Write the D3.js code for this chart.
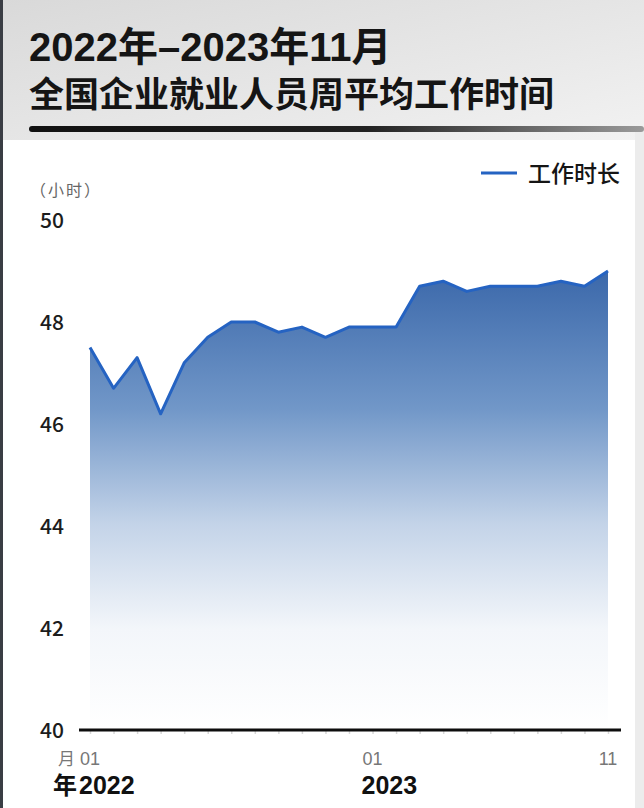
<!DOCTYPE html>
<html><head><meta charset="utf-8">
<script src="https://cdn.jsdelivr.net/npm/d3@7"></script>
<style>html,body{margin:0;padding:0;background:#fff;}svg{display:block;}</style>
</head><body>
<svg id="c" width="644" height="808"></svg>
<script>
const months = ["2022-01","2022-02","2022-03","2022-04","2022-05","2022-06","2022-07","2022-08","2022-09","2022-10","2022-11","2022-12",
  "2023-01","2023-02","2023-03","2023-04","2023-05","2023-06","2023-07","2023-08","2023-09","2023-10","2023-11"];
const hours = [47.5,46.7,47.3,46.2,47.2,47.7,48.0,48.0,47.8,47.9,47.7,47.9,
  47.9,47.9,48.7,48.8,48.6,48.7,48.7,48.7,48.8,48.7,49.0];
const yTicks = [40,42,44,46,48,50];
const monthTicks = ["2022-01","2023-01","2023-11"];
const monthLabels = ["01","01","11"];
const yearTicks = ["2022-01","2023-01"];
const yearLabels = ["2022","2023"];
const titleLines = ["2022年–2023年11月","全国企业就业人员周平均工作时间"];
const seriesName = "工作时长";
const unitLabel = "（小时）";

const font = "'Noto Sans CJK SC','Noto Sans',sans-serif";
const axFont = "'Liberation Sans','Noto Sans CJK SC',sans-serif";
const svg = d3.select("#c");
const defs = svg.append("defs");

// header background
const hg = defs.append("linearGradient").attr("id","hdr").attr("x1","0").attr("y1","0").attr("x2","1").attr("y2","1");
hg.append("stop").attr("offset","0").attr("stop-color","#d9d9d9");
hg.append("stop").attr("offset","1").attr("stop-color","#f2f2f2");
svg.append("rect").attr("x",0).attr("y",0).attr("width",644).attr("height",140).attr("fill","url(#hdr)");
svg.append("rect").attr("x",0).attr("y",140).attr("width",644).attr("height",668).attr("fill","#ffffff");
svg.append("rect").attr("x",635).attr("y",130).attr("width",9).attr("height",678).attr("fill","#ececec");
svg.append("rect").attr("x",0).attr("y",0).attr("width",3).attr("height",808).attr("fill","#3a3d44");

// rule under title
const rg = defs.append("linearGradient").attr("id","rule").attr("x1","0").attr("x2","1");
rg.append("stop").attr("offset","0").attr("stop-color","#111");
rg.append("stop").attr("offset","0.55").attr("stop-color","#222");
rg.append("stop").attr("offset","1").attr("stop-color","#9a9a9a");
svg.append("rect").attr("x",29).attr("y",126).attr("width",615).attr("height",6).attr("rx",3).attr("fill","url(#rule)");

svg.append("text").attr("x",29).attr("y",61).attr("font-family",axFont).attr("font-weight",700)
  .attr("font-size",40).attr("fill","#151515").text(titleLines[0]);
svg.append("text").attr("x",29).attr("y",107).attr("font-family",axFont).attr("font-weight",700)
  .attr("font-size",35).attr("fill","#151515").text(titleLines[1]);

// scales
const x = d3.scalePoint().domain(months).range([90,608]);
const y = d3.scaleLinear().domain([40,50]).range([730,220]);

// area gradient
const ag = defs.append("linearGradient").attr("id","area").attr("gradientUnits","userSpaceOnUse")
  .attr("x1",0).attr("x2",0).attr("y1",y(49)).attr("y2",y(40));
ag.append("stop").attr("offset","0").attr("stop-color","#3b68aa");
ag.append("stop").attr("offset","0.3").attr("stop-color","#7197c8");
ag.append("stop").attr("offset","0.55").attr("stop-color","#c3d3e8");
ag.append("stop").attr("offset","0.78").attr("stop-color","#f3f6fa");
ag.append("stop").attr("offset","1").attr("stop-color","#ffffff");

const area = d3.area().x((d,i)=>x(months[i])).y0(y(40)).y1(d=>y(d));
svg.append("path").datum(hours).attr("d",area).attr("fill","url(#area)");
const line = d3.line().x((d,i)=>x(months[i])).y(d=>y(d));
svg.append("path").datum(hours).attr("d",line).attr("fill","none")
  .attr("stroke","#2563c2").attr("stroke-width",3).attr("stroke-linejoin","round");

// y axis labels
yTicks.forEach(t=>{
  svg.append("text").attr("x",40).attr("y",y(t)+8).attr("font-family",font).attr("font-size",21)
    .attr("font-weight",500).attr("fill","#1c1c1c").text(t);
});
svg.append("text").attr("x",30).attr("y",196).attr("font-family",font).attr("font-size",16)
  .attr("letter-spacing",2).attr("fill","#666").text(unitLabel);

// x axis
const xAxis = d3.axisBottom(x).tickSize(4).tickFormat("");
const gx = svg.append("g").attr("transform",`translate(0,${y(40)})`).call(xAxis);
gx.select(".domain").remove();
gx.selectAll(".tick line").attr("stroke","#d8d8d8").attr("stroke-width",1.5);
svg.append("line").attr("x1",79).attr("x2",621).attr("y1",y(40)).attr("y2",y(40))
  .attr("stroke","#0d0d0d").attr("stroke-width",3);

monthTicks.forEach((m,i)=>{
  svg.append("text").attr("x",x(m)).attr("y",765).attr("text-anchor", i===2?"middle":"start")
    .attr("dx", i===2? 0 : -10).attr("font-family",axFont).attr("font-size",18).attr("fill","#777").text(monthLabels[i]);
});
svg.append("text").attr("x",58).attr("y",765).attr("font-family",axFont).attr("font-size",17).attr("fill","#777").text("月");
yearTicks.forEach((m,i)=>{
  svg.append("text").attr("x",x(m)-11).attr("y",794).attr("font-family",axFont).attr("font-size",25)
    .attr("font-weight",700).attr("fill","#111").text(yearLabels[i]);
});
svg.append("text").attr("x",53).attr("y",794).attr("font-family",axFont).attr("font-size",24)
  .attr("font-weight",700).attr("fill","#111").text("年");

// legend
svg.append("line").attr("x1",481).attr("x2",517).attr("y1",173).attr("y2",173)
  .attr("stroke","#2563c2").attr("stroke-width",3);
svg.append("text").attr("x",528).attr("y",182).attr("font-family",font).attr("font-size",23)
  .attr("font-weight",500).attr("fill","#151515").text(seriesName);
</script>
</body></html>
